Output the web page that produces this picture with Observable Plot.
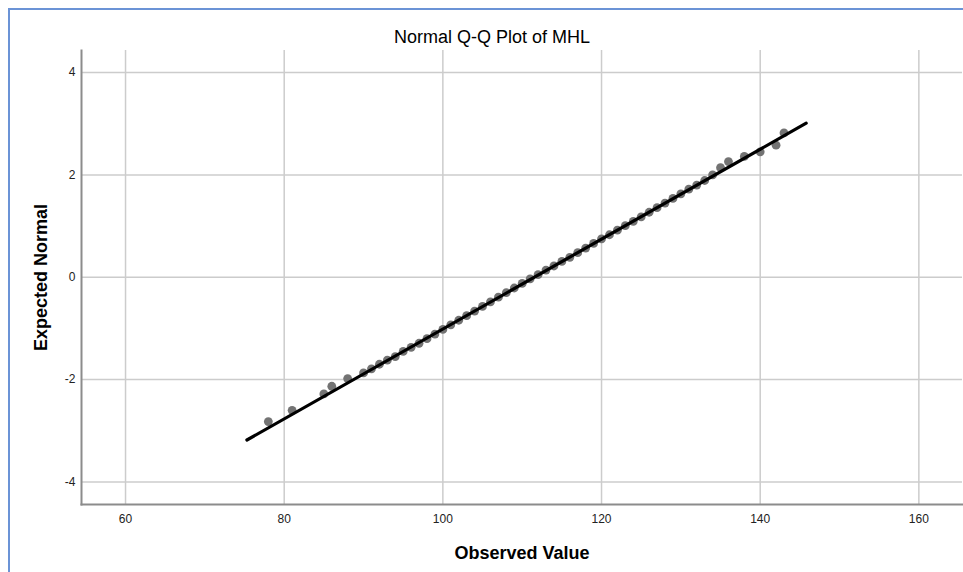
<!DOCTYPE html>
<html>
<head>
<meta charset="utf-8">
<script src="https://cdn.jsdelivr.net/npm/d3@7"></script>
<script src="https://cdn.jsdelivr.net/npm/@observablehq/plot@0.6"></script>
<style>
  html, body { margin: 0; padding: 0; background: #fff; }
  #wrap { position: relative; width: 963px; height: 572px; overflow: hidden; }
  #frame { position: absolute; left: 8px; top: 8px; right: -10px; bottom: -10px;
           border-left: 2px solid #6b93d6; border-top: 2px solid #6b93d6; pointer-events: none; }
</style>
</head>
<body>
<div id="wrap"><div id="chart"></div><div id="frame"></div></div>
<script>
const observed = [78, 81, 85, 86, 88, 90, 91, 92, 93, 94, 95, 96, 97, 98, 99, 100,
  101, 102, 103, 104, 105, 106, 107, 108, 109, 110, 111, 112, 113, 114, 115, 116,
  117, 118, 119, 120, 121, 122, 123, 124, 125, 126, 127, 128, 129, 130, 131, 132,
  133, 134, 135, 136, 138, 140, 142, 143];
const expected = [-2.82, -2.60, -2.28, -2.13, -1.98, -1.87, -1.79, -1.70, -1.62, -1.55, -1.45, -1.37, -1.29, -1.20, -1.11, -1.02,
  -0.93, -0.84, -0.75, -0.66, -0.57, -0.48, -0.39, -0.30, -0.21, -0.12, -0.03, 0.05, 0.14, 0.22, 0.31, 0.39,
  0.48, 0.57, 0.66, 0.75, 0.83, 0.92, 1.01, 1.09, 1.18, 1.27, 1.36, 1.45, 1.54, 1.63, 1.72, 1.80,
  1.89, 2.00, 2.14, 2.26, 2.36, 2.45, 2.58, 2.82];

// Reference line end points
const lineX = [75.3, 145.8];
const lineY = [-3.18, 3.01];

// Ticks
const xTicks = [60, 80, 100, 120, 140, 160];
const yTicks = [-4, -2, 0, 2, 4];

const titleText = "Normal Q-Q Plot of MHL";
const xLabel = "Observed Value";
const yLabel = "Expected Normal";

const points = observed.map((v, i) => ({x: v, y: expected[i]}));
const linePts = lineX.map((v, i) => ({x: v, y: lineY[i]}));

const font = "Arial, 'Liberation Sans', sans-serif";

const chart = Plot.plot({
  width: 963,
  height: 572,
  marginLeft: 81,
  marginRight: 1,
  marginTop: 50,
  marginBottom: 68,
  style: {fontFamily: font, background: "white", color: "#222", overflow: "visible"},
  x: {domain: [54.45, 165.5]},
  y: {domain: [-4.44, 4.43]},
  marks: [
    Plot.gridX(xTicks, {stroke: "#cccccc", strokeOpacity: 1, strokeWidth: 1.5}),
    Plot.gridY(yTicks, {stroke: "#cccccc", strokeOpacity: 1, strokeWidth: 1.5}),
    Plot.axisX(xTicks, {tickSize: 0, tickPadding: 10, fontSize: 12, label: null, fill: "#222", tickFormat: d => String(d)}),
    Plot.axisY(yTicks, {tickSize: 0, tickPadding: 6, fontSize: 12, label: null, fill: "#222", tickFormat: d => String(d)}),
    Plot.frame({anchor: "left", stroke: "#8c8c8c", strokeWidth: 2}),
    Plot.frame({anchor: "bottom", stroke: "#8c8c8c", strokeWidth: 2}),
    Plot.dot(points, {x: "x", y: "y", r: 4.4, fill: "#737373", stroke: "none"}),
    Plot.line(linePts, {x: "x", y: "y", stroke: "#000", strokeWidth: 3.2}),
    Plot.text([titleText], {frameAnchor: "top", textAnchor: "middle", lineAnchor: "bottom", dx: -30, dy: -8, fontSize: 18, fill: "#000"}),
    Plot.text([xLabel], {frameAnchor: "bottom", textAnchor: "middle", lineAnchor: "bottom", dy: 54, fontSize: 18, fontWeight: "bold", fill: "#000"}),
    Plot.text([yLabel], {frameAnchor: "left", textAnchor: "middle", lineAnchor: "bottom", rotate: -90, dx: -34.5, fontSize: 18, fontWeight: "bold", fill: "#000"})
  ]
});
document.getElementById("chart").appendChild(chart);
</script>
</body>
</html>
